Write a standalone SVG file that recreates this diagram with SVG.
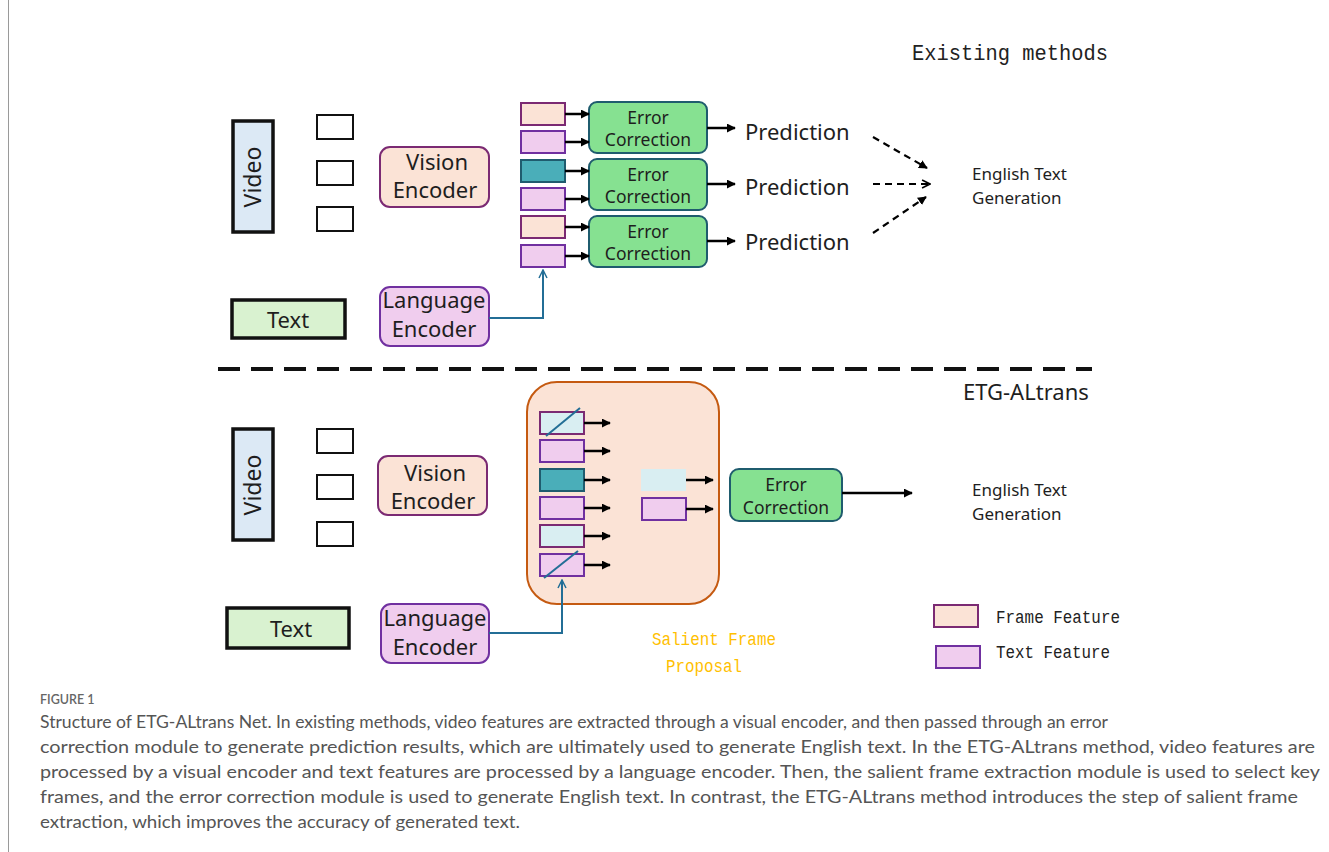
<svg xmlns="http://www.w3.org/2000/svg" width="1329" height="852" viewBox="0 0 1329 852">
  <style>
    .lbl { font-family: "Noto Sans", "Liberation Sans", sans-serif; fill: #1e1e1e; }
    .mono { font-family: "Liberation Mono", "DejaVu Sans Mono", monospace; fill: #222; }
    .cap { font-family: Lato, "Open Sans", "Liberation Sans", sans-serif; fill: #555; font-size: 17.5px; }
    .src { fill: #fff; stroke: #111; stroke-width: 2; }
    .video { fill: #dce9f5; stroke: #111; stroke-width: 3.5; }
    .textin { fill: #d9f2d0; stroke: #111; stroke-width: 3.5; }
    .venc { fill: #fbe3d6; stroke: #7b2a73; stroke-width: 2; }
    .lenc { fill: #f0cdee; stroke: #7030a0; stroke-width: 2; }
    .ff { fill: #fbe3d6; stroke: #7b2a73; stroke-width: 2; }
    .tf { fill: #f0cdee; stroke: #7030a0; stroke-width: 2; }
    .kf { fill: #4aaeb9; stroke: #1f5c6e; stroke-width: 2; }
    .lb { fill: #d9eef2; stroke: #7b2a73; stroke-width: 2; }
    .ec { fill: #86e191; stroke: #1f5c6e; stroke-width: 2; }
    .arr { stroke: #000; stroke-width: 2.5; fill: none; marker-end: url(#ah); }
    .dash { stroke: #000; stroke-width: 2.2; fill: none; stroke-dasharray: 7 5; }
    .blue { stroke: #236e96; stroke-width: 2; fill: none; }
  </style>
  <defs>
    <marker id="ah" viewBox="0 0 10 10" refX="9" refY="5" markerWidth="3.6" markerHeight="3.6" orient="auto">
      <path d="M0,0 L10,5 L0,10 z" fill="#000"/>
    </marker>
    <marker id="ahd" viewBox="0 0 10 10" refX="9" refY="5" markerWidth="4" markerHeight="4" orient="auto">
      <path d="M0,0 L10,5 L0,10 z" fill="#000"/>
    </marker>
    <marker id="ahopen" viewBox="0 0 10 10" refX="9" refY="5" markerWidth="4.5" markerHeight="4.5" orient="auto">
      <path d="M1,1 L9,5 L1,9" fill="none" stroke="#000" stroke-width="1.6"/>
    </marker>
    <marker id="ahblue" viewBox="0 0 10 10" refX="9" refY="5" markerWidth="5" markerHeight="5" orient="auto">
      <path d="M1,1 L9,5 L1,9" fill="none" stroke="#236e96" stroke-width="1.5"/>
    </marker>
  </defs>

  <rect width="1329" height="852" fill="#fff"/>
  <line x1="8.5" y1="0" x2="8.5" y2="852" stroke="#9a9a9a" stroke-width="1"/>

  <!-- section titles -->
  <text class="mono" x="912" y="60" font-size="22" textLength="196" lengthAdjust="spacingAndGlyphs">Existing methods</text>
  <text class="lbl" x="963" y="400" font-size="22">ETG-ALtrans</text>
  <line x1="218" y1="369" x2="1092" y2="369" stroke="#111" stroke-width="4" stroke-dasharray="22 11"/>

  <!-- ===== existing methods ===== -->
  <g id="video-top">
    <rect class="video" x="233" y="121" width="40" height="111"/>
    <text class="lbl" font-size="23" text-anchor="middle" transform="translate(261,177) rotate(-90)">Video</text>
  </g>
  <g id="frames-top">
    <rect class="src" x="317" y="115" width="36" height="24"/>
    <rect class="src" x="317" y="161" width="36" height="24"/>
    <rect class="src" x="317" y="207" width="36" height="24"/>
  </g>
  <g id="vision-encoder-top">
    <rect class="venc" x="380" y="147" width="109" height="60" rx="10"/>
    <text class="lbl" font-size="22" text-anchor="middle" x="437" y="170">Vision</text>
    <text class="lbl" font-size="22" text-anchor="middle" x="435" y="198">Encoder</text>
  </g>
  <g id="text-top">
    <rect class="textin" x="232" y="300" width="113" height="38"/>
    <text class="lbl" font-size="22" text-anchor="middle" x="288" y="328">Text</text>
  </g>
  <g id="language-encoder-top">
    <rect class="lenc" x="380" y="287" width="109" height="59" rx="10"/>
    <text class="lbl" font-size="22" text-anchor="middle" x="434" y="308">Language</text>
    <text class="lbl" font-size="22" text-anchor="middle" x="434" y="337">Encoder</text>
  </g>
  <g id="features-top">
    <rect class="ff" x="521" y="103" width="44" height="22"/>
    <rect class="tf" x="521" y="131" width="44" height="22"/>
    <rect class="kf" x="521" y="160" width="44" height="22"/>
    <rect class="tf" x="521" y="188" width="44" height="22"/>
    <rect class="ff" x="521" y="216" width="44" height="22"/>
    <rect class="tf" x="521" y="245" width="44" height="22"/>
  </g>
  <g id="error-correction-top-1">
    <rect class="ec" x="589" y="102" width="118" height="51" rx="8"/>
    <text class="lbl" font-size="17.5" text-anchor="middle" x="648" y="124">Error</text>
    <text class="lbl" font-size="17.5" text-anchor="middle" x="648" y="146">Correction</text>
  </g>
  <g id="error-correction-top-2">
    <rect class="ec" x="589" y="159" width="118" height="51" rx="8"/>
    <text class="lbl" font-size="17.5" text-anchor="middle" x="648" y="181">Error</text>
    <text class="lbl" font-size="17.5" text-anchor="middle" x="648" y="203">Correction</text>
  </g>
  <g id="error-correction-top-3">
    <rect class="ec" x="589" y="216" width="118" height="51" rx="8"/>
    <text class="lbl" font-size="17.5" text-anchor="middle" x="648" y="238">Error</text>
    <text class="lbl" font-size="17.5" text-anchor="middle" x="648" y="260">Correction</text>
  </g>
  <g id="predictions">
    <text class="lbl" font-size="22" x="745" y="140">Prediction</text>
    <text class="lbl" font-size="22" x="745" y="195">Prediction</text>
    <text class="lbl" font-size="22" x="745" y="250">Prediction</text>
  </g>
  <g id="output-top">
    <text class="lbl" font-size="17" x="972" y="180">English Text</text>
    <text class="lbl" font-size="17" x="972" y="204">Generation</text>
  </g>

  <!-- ===== ETG-ALtrans ===== -->
  <g id="video-bottom">
    <rect class="video" x="233" y="429" width="40" height="111"/>
    <text class="lbl" font-size="23" text-anchor="middle" transform="translate(261,485) rotate(-90)">Video</text>
  </g>
  <g id="frames-bottom">
    <rect class="src" x="317" y="429" width="36" height="24"/>
    <rect class="src" x="317" y="475" width="36" height="24"/>
    <rect class="src" x="317" y="522" width="36" height="24"/>
  </g>
  <g id="vision-encoder-bottom">
    <rect class="venc" x="378" y="456" width="109" height="59" rx="10"/>
    <text class="lbl" font-size="22" text-anchor="middle" x="435" y="481">Vision</text>
    <text class="lbl" font-size="22" text-anchor="middle" x="433" y="509">Encoder</text>
  </g>
  <g id="text-bottom">
    <rect class="textin" x="227" y="608" width="122" height="40"/>
    <text class="lbl" font-size="22" text-anchor="middle" x="291" y="637">Text</text>
  </g>
  <g id="language-encoder-bottom">
    <rect class="lenc" x="381" y="604" width="108" height="59" rx="10"/>
    <text class="lbl" font-size="22" text-anchor="middle" x="435" y="626">Language</text>
    <text class="lbl" font-size="22" text-anchor="middle" x="435" y="655">Encoder</text>
  </g>
  <g id="salient-frame-proposal">
    <rect x="527" y="382" width="192" height="222" rx="30" fill="#fbe3d6" stroke="#c55a11" stroke-width="2"/>
    <rect class="lb" x="540" y="412" width="44" height="22"/>
    <line x1="546" y1="436" x2="580" y2="408" class="blue"/>
    <rect class="tf" x="540" y="440" width="44" height="22"/>
    <rect class="kf" x="540" y="469" width="44" height="22"/>
    <rect class="tf" x="540" y="497" width="44" height="22"/>
    <rect class="lb" x="540" y="525" width="44" height="22"/>
    <rect class="tf" x="540" y="554" width="44" height="22"/>
    <line x1="544" y1="578" x2="578" y2="551" class="blue"/>
    <rect x="641" y="469" width="45" height="22" fill="#d9eef2"/>
    <rect class="tf" x="642" y="498" width="44" height="22"/>
  </g>
  <g id="error-correction-bottom">
    <rect class="ec" x="730" y="469" width="112" height="52" rx="9"/>
    <text class="lbl" font-size="17.5" text-anchor="middle" x="786" y="491">Error</text>
    <text class="lbl" font-size="17.5" text-anchor="middle" x="786" y="514">Correction</text>
  </g>
  <g id="output-bottom">
    <text class="lbl" font-size="17" x="972" y="496">English Text</text>
    <text class="lbl" font-size="17" x="972" y="520">Generation</text>
  </g>
  <text id="sfp-label" font-family="'Liberation Mono', monospace" font-size="18" fill="#ffc000">
    <tspan x="652" y="645" textLength="124" lengthAdjust="spacingAndGlyphs">Salient Frame</tspan>
    <tspan x="666" y="672" textLength="76" lengthAdjust="spacingAndGlyphs">Proposal</tspan>
  </text>

  <g id="legend">
    <rect class="ff" x="934" y="605" width="44" height="22"/>
    <text class="mono" font-size="18" x="996" y="623" textLength="124" lengthAdjust="spacingAndGlyphs">Frame Feature</text>
    <rect class="tf" x="936" y="646" width="44" height="22"/>
    <text class="mono" font-size="18" x="996" y="658" textLength="114" lengthAdjust="spacingAndGlyphs">Text Feature</text>
  </g>

  <!-- connectors -->
  <g id="connectors">
    <line class="arr" x1="565" y1="114" x2="589" y2="114"/>
    <line class="arr" x1="565" y1="142" x2="589" y2="142"/>
    <line class="arr" x1="565" y1="171" x2="589" y2="171"/>
    <line class="arr" x1="565" y1="199" x2="589" y2="199"/>
    <line class="arr" x1="565" y1="227" x2="589" y2="227"/>
    <line class="arr" x1="565" y1="256" x2="589" y2="256"/>
    <line class="arr" x1="707" y1="128" x2="735" y2="128"/>
    <line class="arr" x1="707" y1="184" x2="735" y2="184"/>
    <line class="arr" x1="707" y1="241" x2="735" y2="241"/>
    <line class="dash" x1="873" y1="137" x2="927" y2="168" marker-end="url(#ahd)"/>
    <line class="dash" x1="873" y1="184" x2="930" y2="184" marker-end="url(#ahopen)"/>
    <line class="dash" x1="873" y1="233" x2="926" y2="197" marker-end="url(#ahd)"/>
    <polyline class="blue" points="489,318 543,318 543,270" marker-end="url(#ahblue)"/>

    <line class="arr" x1="584" y1="423" x2="610" y2="423"/>
    <line class="arr" x1="584" y1="451" x2="610" y2="451"/>
    <line class="arr" x1="584" y1="480" x2="610" y2="480"/>
    <line class="arr" x1="584" y1="508" x2="610" y2="508"/>
    <line class="arr" x1="584" y1="536" x2="610" y2="536"/>
    <line class="arr" x1="584" y1="565" x2="610" y2="565"/>
    <line class="arr" x1="686" y1="480" x2="713" y2="480"/>
    <line class="arr" x1="686" y1="509" x2="713" y2="509"/>
    <line class="arr" x1="842" y1="493" x2="912" y2="493"/>
    <polyline class="blue" points="489,633 562,633 562,580" marker-end="url(#ahblue)"/>
  </g>

  <!-- caption -->
  <text font-family="Lato, 'Open Sans', sans-serif" font-size="12.5" font-weight="600" fill="#666" x="40" y="704">FIGURE 1</text>
  <text class="cap" x="40" y="728" textLength="1068" lengthAdjust="spacingAndGlyphs">Structure of ETG-ALtrans Net. In existing methods, video features are extracted through a visual encoder, and then passed through an error</text>
  <text class="cap" x="40" y="753" textLength="1275" lengthAdjust="spacingAndGlyphs">correction module to generate prediction results, which are ultimately used to generate English text. In the ETG-ALtrans method, video features are</text>
  <text class="cap" x="40" y="778" textLength="1280" lengthAdjust="spacingAndGlyphs">processed by a visual encoder and text features are processed by a language encoder. Then, the salient frame extraction module is used to select key</text>
  <text class="cap" x="40" y="803" textLength="1258" lengthAdjust="spacingAndGlyphs">frames, and the error correction module is used to generate English text. In contrast, the ETG-ALtrans method introduces the step of salient frame</text>
  <text class="cap" x="40" y="828" textLength="480" lengthAdjust="spacingAndGlyphs">extraction, which improves the accuracy of generated text.</text>
</svg>
